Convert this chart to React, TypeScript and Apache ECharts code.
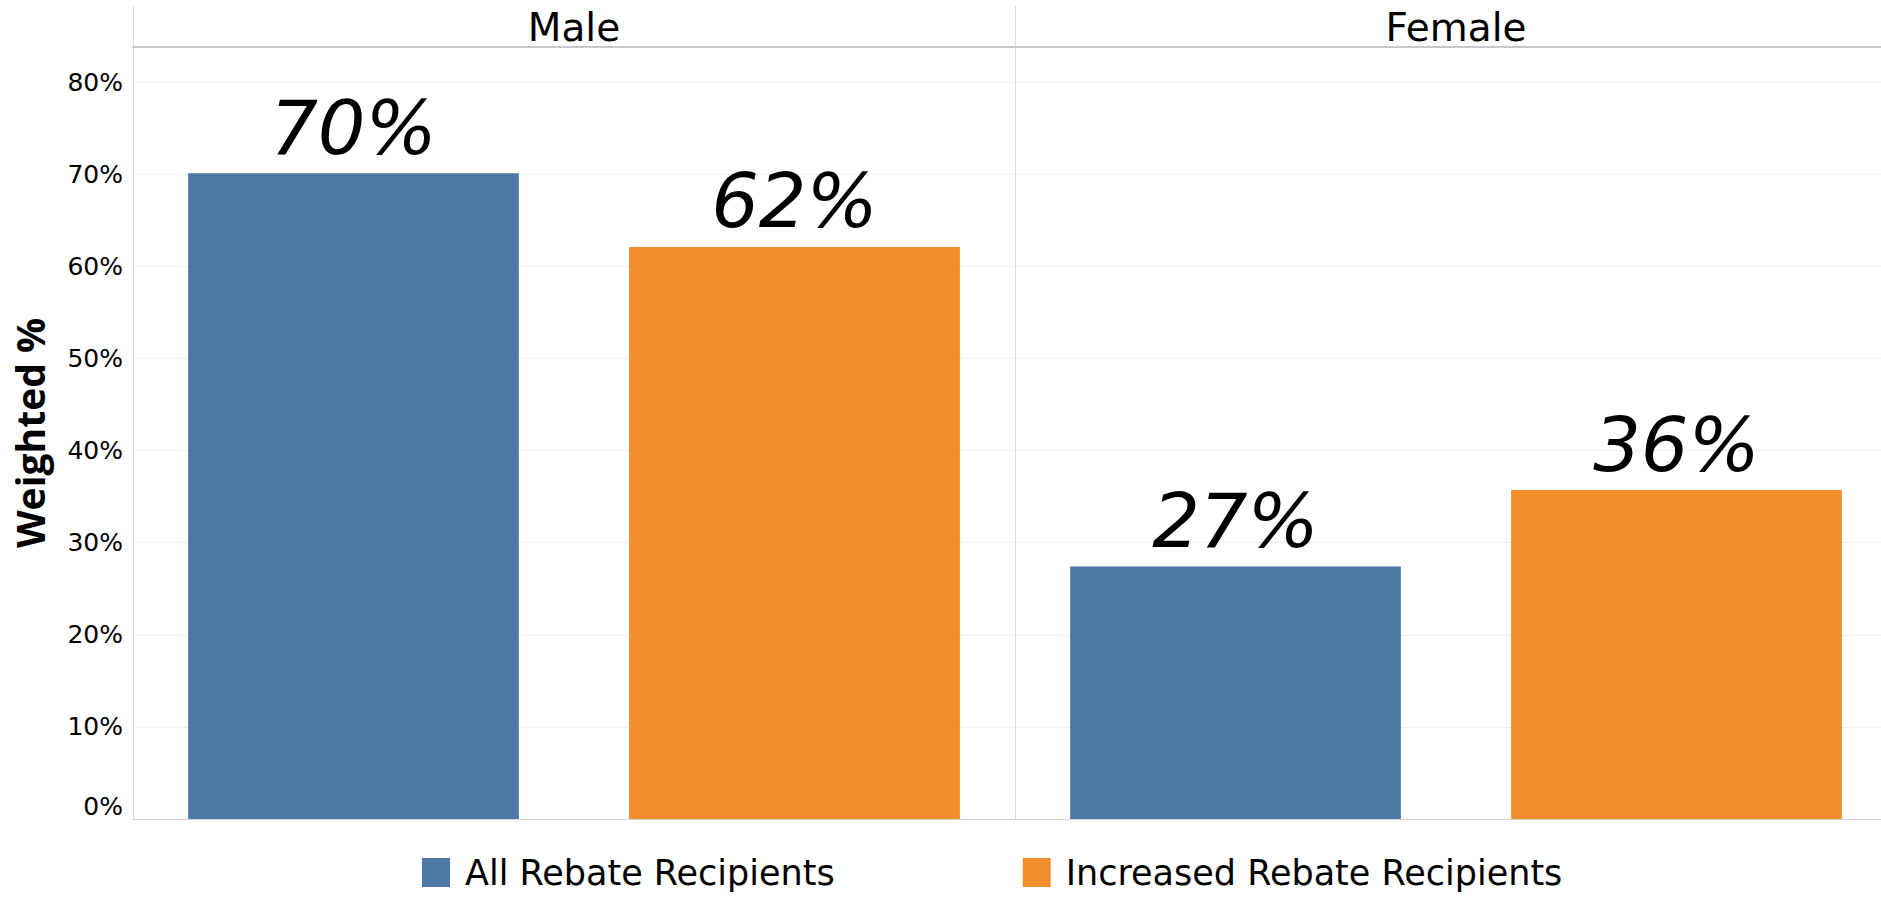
import React, { useEffect, useRef } from 'react';
import * as echarts from 'echarts';

const panels = ['Male', 'Female'];
const seriesNames = ['All Rebate Recipients', 'Increased Rebate Recipients'];
const allRebate = [70.1, 27.4];
const increasedRebate = [62.1, 35.7];
const yMin = 0;
const yMax = 83.8;
const yInterval = 10;

const BLUE = '#4e79a7';
const ORANGE = '#f28e2b';
const FONT = 'DejaVu Sans';

export default function App() {
  const ref = useRef<HTMLDivElement>(null);
  useEffect(() => {
    if (!ref.current) return;
    const chart = echarts.init(ref.current, null, { renderer: 'svg' });
    const gridDefs = [
      { left: 133, top: 47, width: 882, height: 772 },
      { left: 1015, top: 47, width: 882, height: 772 },
    ];
    const xAxes: any[] = [];
    const yAxes: any[] = [];
    const series: any[] = [];
    panels.forEach((p, i) => {
      xAxes.push({
        type: 'category',
        gridIndex: i,
        data: seriesNames,
        position: 'bottom',
        axisLine: { show: true, lineStyle: { color: '#d4d4d4', width: 1 } },
        axisTick: { show: false },
        axisLabel: { show: false },
      });
      yAxes.push({
        type: 'value',
        gridIndex: i,
        min: yMin,
        max: yMax,
        interval: yInterval,
        axisLine: { show: true, lineStyle: { color: '#d9d9d9', width: 1 } },
        axisTick: { show: false },
        splitLine: { show: true, lineStyle: { color: '#efefef', width: 1 } },
        axisLabel: {
          show: i === 0,
          formatter: '{value}%',
          fontSize: 25,
          fontFamily: FONT,
          color: '#000',
          margin: 10,
          showMaxLabel: false,
          verticalAlignMinLabel: 'bottom',
        },
        name: i === 0 ? 'Weighted %' : '',
        nameLocation: 'middle',
        nameGap: 84,
        nameTextStyle: { fontSize: 39, fontWeight: 'bold', fontFamily: 'Open Sans', color: '#000' },
      });
    });
    panels.forEach((p, i) => {
      xAxes.push({
        type: 'category',
        gridIndex: i,
        data: seriesNames,
        position: 'top',
        axisLine: { show: true, lineStyle: { color: '#c8c8c8', width: 2 } },
        axisTick: { show: false },
        axisLabel: { show: false },
        name: p,
        nameLocation: 'middle',
        nameGap: 0,
        nameTextStyle: { fontSize: 39, fontFamily: FONT, color: '#000' },
      });
    });
    const label = {
      show: true,
      position: 'top',
      distance: 8,
      formatter: (d: any) => Math.round(d.value) + '%',
      fontSize: 75,
      fontStyle: 'italic',
      fontFamily: FONT,
      color: '#000',
    };
    panels.forEach((p, i) => {
      series.push({
        name: seriesNames[0],
        type: 'bar',
        xAxisIndex: i,
        yAxisIndex: i,
        data: [allRebate[i], '-'],
        barWidth: '75%',
        barGap: '-100%',
        itemStyle: { color: BLUE },
        label,
      });
      series.push({
        name: seriesNames[1],
        type: 'bar',
        xAxisIndex: i,
        yAxisIndex: i,
        data: ['-', increasedRebate[i]],
        barWidth: '75%',
        barGap: '-100%',
        itemStyle: { color: ORANGE },
        label,
      });
    });
    chart.setOption({
      animation: false,
      backgroundColor: '#fff',
      grid: gridDefs,
      xAxis: xAxes,
      yAxis: yAxes,
      series,
      legend: {
        data: seriesNames,
        left: 422,
        top: 855,
        padding: 0,
        icon: 'rect',
        itemWidth: 28,
        itemHeight: 29,
        itemGap: 188,
        textStyle: { fontSize: 35, fontFamily: FONT, color: '#000', padding: [0, 0, 0, 10] },
      },
      graphic: [
        { type: 'line', shape: { x1: 133.5, y1: 6, x2: 133.5, y2: 47 }, style: { stroke: '#d9d9d9', lineWidth: 1 } },
        { type: 'line', shape: { x1: 1015.5, y1: 6, x2: 1015.5, y2: 47 }, style: { stroke: '#d9d9d9', lineWidth: 1 } },
      ],
    });
    return () => chart.dispose();
  }, []);
  return (
    <div style={{ position: 'absolute', left: 0, top: 0, width: 1881, height: 897, overflow: 'hidden', background: '#fff' }}>
      <div ref={ref} style={{ position: 'absolute', left: 0, top: 0, width: 1897, height: 897 }} />
    </div>
  );
}
